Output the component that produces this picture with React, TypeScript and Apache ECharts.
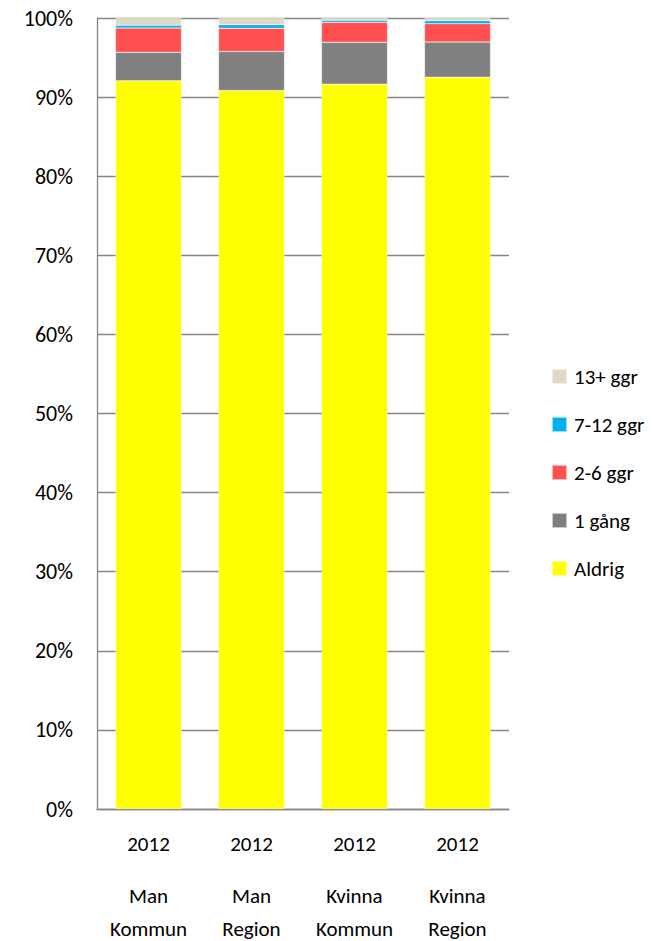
import React, { useEffect, useRef } from "react";
import * as echarts from "echarts";

const years = ["2012", "2012", "2012", "2012"];
const groups = ["Man", "Man", "Kvinna", "Kvinna"];
const areas = ["Kommun", "Region", "Kommun", "Region"];

const seriesNames = ["Aldrig", "1 gång", "2-6 ggr", "7-12 ggr", "13+ ggr"];
const aldrig = [92.06, 90.84, 91.64, 92.52];
const enGang = [3.6, 4.92, 5.29, 4.45];
const tvaSex = [3.07, 2.94, 2.52, 2.31];
const sjuTolv = [0.34, 0.46, 0.25, 0.38];
const trettonPlus = [0.93, 0.84, 0.3, 0.34];
const colors = ["#FFFF00", "#808080", "#FF5050", "#00B0F0", "#DDD9C4"];

const FONT = "Carlito, Lato, 'Noto Sans', sans-serif";

export default function App() {
  const ref = useRef<HTMLDivElement>(null);
  useEffect(() => {
    if (!ref.current) return;
    const chart = echarts.init(ref.current, undefined, { renderer: "svg" });
    const values = [aldrig, enGang, tvaSex, sjuTolv, trettonPlus];
    const cats = years.map((_, i) => String(i));
    chart.setOption({
      animation: false,
      textStyle: { fontFamily: FONT },
      grid: { left: 97, top: 18, right: 153, bottom: 132, containLabel: false },
      legend: {
        orient: "vertical",
        left: 551,
        top: 366,
        padding: 0,
        itemWidth: 15,
        itemHeight: 15,
        itemGap: 27,
        icon: "rect",
        data: [...seriesNames].reverse(),
        textStyle: { fontSize: 21, color: "#000", fontFamily: FONT, padding: [0, 0, 0, 2] },
      },
      xAxis: {
        type: "category",
        data: cats,
        axisLine: { lineStyle: { color: "#868686", width: 1.3 } },
        axisTick: { show: false },
        axisLabel: {
          margin: 0,
          interval: 0,
          color: "#000",
          formatter: (v: string) => {
            const i = Number(v);
            return `{a|${years[i]}}\n{b|${groups[i]}}\n{b|${areas[i]}}`;
          },
          rich: {
            a: { fontSize: 21, lineHeight: 70, color: "#000", fontFamily: FONT },
            b: { fontSize: 21, lineHeight: 33, color: "#000", fontFamily: FONT },
          },
        },
      },
      yAxis: {
        type: "value",
        min: 0,
        max: 100,
        interval: 10,
        axisLine: { show: true, lineStyle: { color: "#868686", width: 1.3 } },
        axisTick: { show: false },
        splitLine: { lineStyle: { color: "#868686", width: 1.3 } },
        axisLabel: {
          margin: 24,
          color: "#000",
          fontSize: 22,
          fontFamily: FONT,
          formatter: (v: number) => `${v}%`,
        },
      },
      series: seriesNames.map((name, k) => ({
        name,
        type: "bar",
        stack: "total",
        barWidth: 66,
        data: values[k],
        itemStyle: { color: colors[k], borderColor: "rgba(255,255,255,0.6)", borderWidth: 0.5 },
      })),
    });
    return () => chart.dispose();
  }, []);
  return (
    <div
      ref={ref}
      style={{ position: "absolute", left: 0, top: 0, width: 662, height: 941, background: "#fff" }}
    />
  );
}
